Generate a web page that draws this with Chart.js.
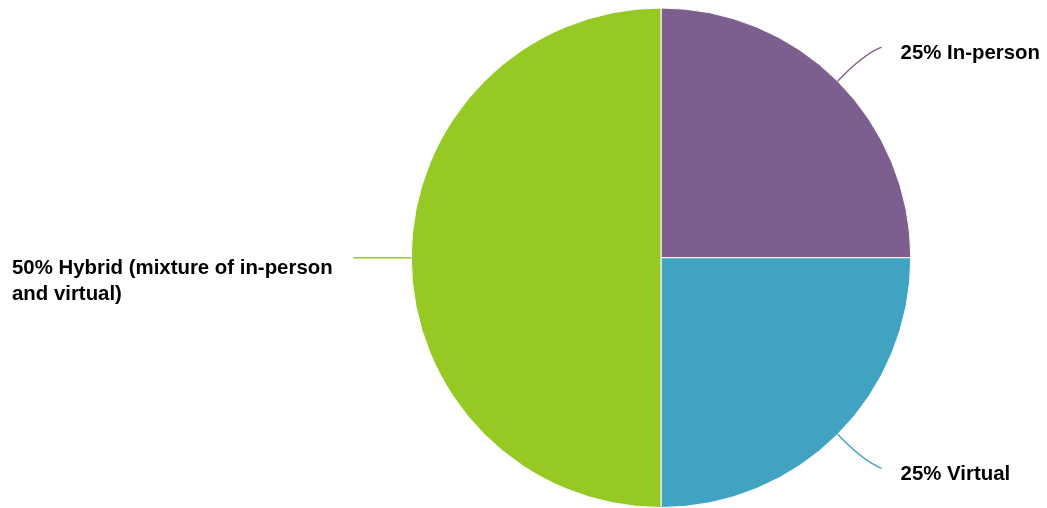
<!DOCTYPE html>
<html>
<head>
<meta charset="utf-8">
<script src="https://cdn.jsdelivr.net/npm/chart.js@4.4.1/dist/chart.umd.min.js"></script>
<style>
  html, body { margin: 0; padding: 0; background: #ffffff; }
  #wrap { width: 1047px; height: 508px; position: relative; }
</style>
</head>
<body>
<div id="wrap"><canvas id="c" width="1047" height="508"></canvas></div>
<script>
const categories = ["In-person", "Virtual", "Hybrid (mixture of in-person and virtual)"];
const percentages = [25, 25, 50];
const sliceColors = ["#7c5f8e", "#41a3c2", "#97c925"];

const FONT = "bold 20.4px 'Liberation Sans', Arial, Helvetica, sans-serif";

function wrapText(ctx, text, maxWidth) {
  const words = text.split(" ");
  const lines = [];
  let cur = "";
  for (const w of words) {
    const test = cur ? cur + " " + w : w;
    if (ctx.measureText(test).width > maxWidth && cur) {
      lines.push(cur);
      cur = w;
    } else {
      cur = test;
    }
  }
  if (cur) lines.push(cur);
  return lines;
}

const leaderLabels = {
  id: "leaderLabels",
  afterDatasetsDraw(chart) {
    const ctx = chart.ctx;
    const meta = chart.getDatasetMeta(0);
    const data = chart.data.datasets[0].data;
    ctx.save();
    ctx.font = FONT;
    ctx.fillStyle = "#000000";
    ctx.lineWidth = 1.4;
    meta.data.forEach((arc, i) => {
      const mid = (arc.startAngle + arc.endAngle) / 2;
      const r = arc.outerRadius;
      const sx = arc.x + Math.cos(mid) * r;
      const sy = arc.y + Math.sin(mid) * r;
      const right = Math.cos(mid) > 0.01;
      const left = Math.cos(mid) < -0.01;
      const text = data[i] + "% " + chart.data.labels[i];
      ctx.strokeStyle = sliceColors[i];
      ctx.beginPath();
      if (right) {
        const dy = Math.sin(mid) < 0 ? -1 : 1;
        const ex = sx + 44, ey = sy + dy * 34;
        ctx.moveTo(sx, sy);
        ctx.quadraticCurveTo(sx + 26, sy + dy * 27, ex, ey);
        ctx.stroke();
        ctx.textAlign = "left";
        ctx.textBaseline = "alphabetic";
        ctx.fillText(text, ex + 19, ey + 11.5);
      } else if (left) {
        const ex = sx - 58, ey = sy;
        ctx.moveTo(sx, sy);
        ctx.lineTo(ex, ey);
        ctx.stroke();
        ctx.textAlign = "left";
        ctx.textBaseline = "alphabetic";
        const leftX = 12;
        const lines = wrapText(ctx, text, ex - 19 - leftX);
        lines.forEach((ln, k) => ctx.fillText(ln, leftX, ey + 16 + k * 26));
      }
    });
    ctx.restore();
  }
};

new Chart(document.getElementById("c"), {
  type: "pie",
  data: {
    labels: categories,
    datasets: [{
      data: percentages,
      backgroundColor: sliceColors,
      borderColor: "#ffffff",
      borderWidth: 1
    }]
  },
  options: {
    responsive: false,
    animation: false,
    events: [],
    layout: { padding: { top: 7.5, bottom: 0, left: 300, right: 25 } },
    plugins: {
      legend: { display: false },
      tooltip: { enabled: false },
      title: { display: false }
    }
  },
  plugins: [leaderLabels]
});
</script>
</body>
</html>
